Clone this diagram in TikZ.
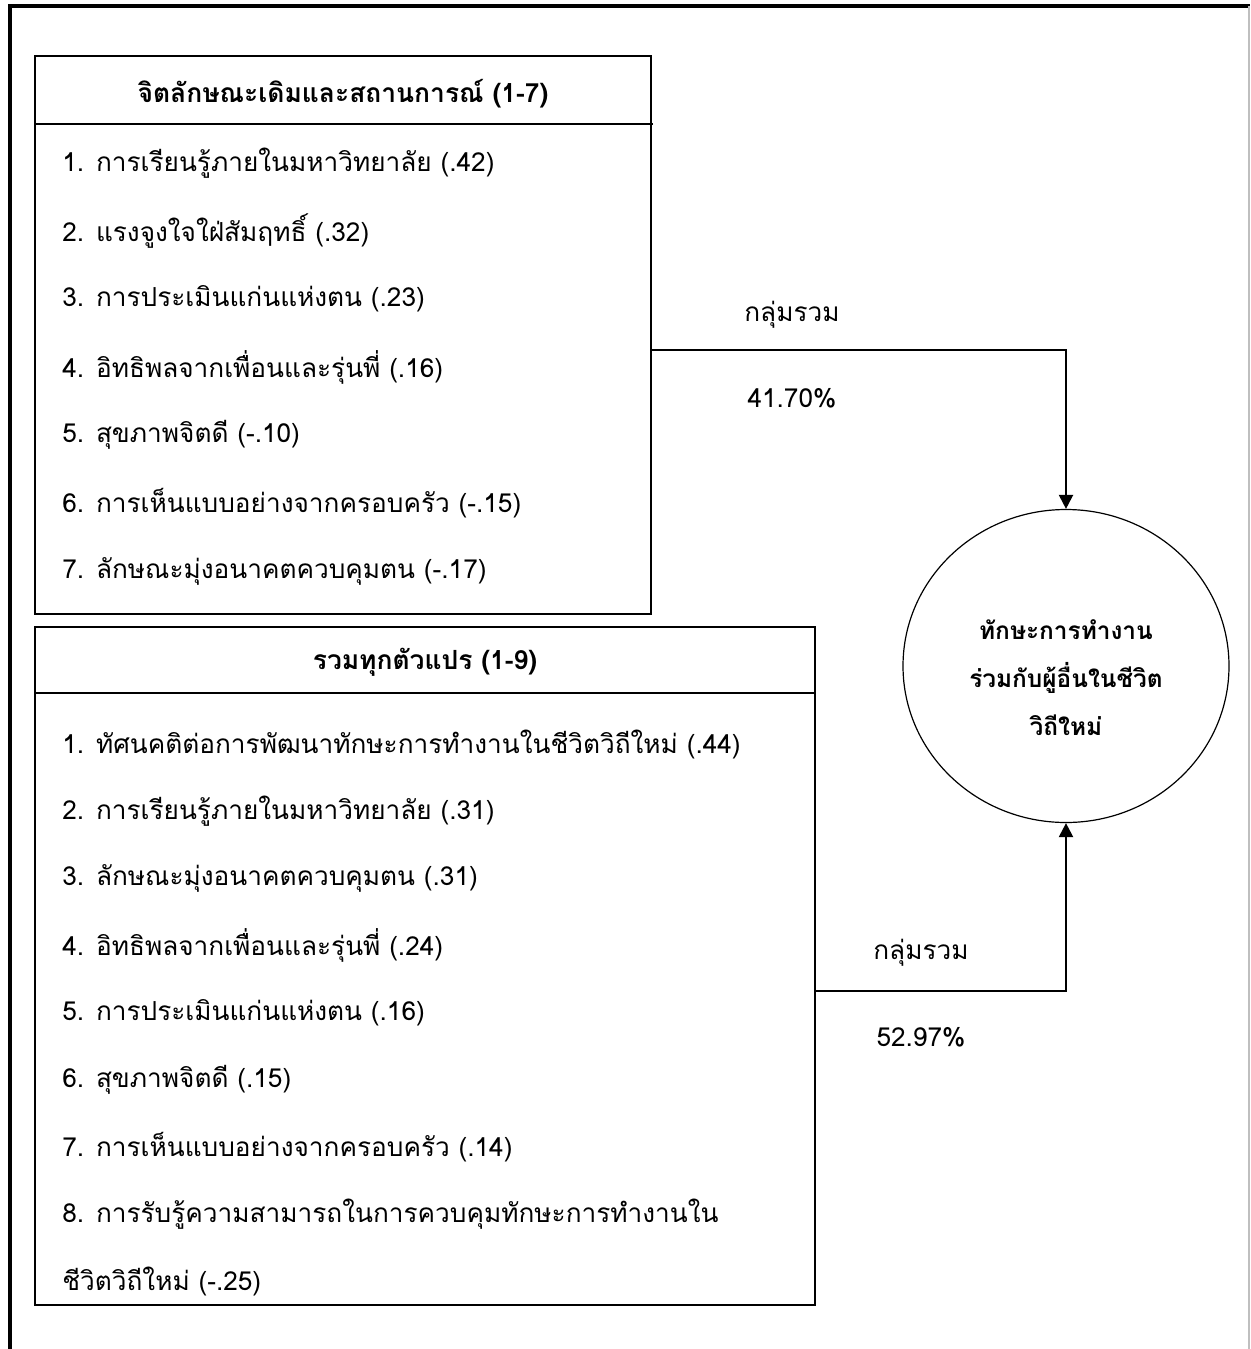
\documentclass[tikz,border=0pt]{standalone}
\usepackage{fontspec}
\newfontfamily\thaifont[Script=Thai]{Loma}
\usetikzlibrary{arrows.meta,shapes.geometric}
\tikzset{
  txt/.style={font=\thaifont\fontsize{13.1}{24}\selectfont, inner sep=0pt},
  item/.style={txt, anchor=west},
  head/.style={txt, font=\thaifont\bfseries\fontsize{13.2}{24}\selectfont},
  box/.style={draw, line width=0.6pt},
  link/.style={line width=1.1pt, -{Triangle[length=7pt,width=7pt]}}
}
\begin{document}
\begin{tikzpicture}[x=0.5pt,y=-0.5pt]
        \useasboundingbox (0,0) rectangle (1250,1349);
        % page frame
        \draw[line width=2.4pt] (10,1349) -- (10,6) -- (1250,6);
        \draw[gray!50, line width=0.6pt] (1249,6) -- (1249,1349);

        % first group
        \node[box, minimum width=308pt, minimum height=279pt] (box1) at (343,335) {};
        \node[head] (head1) at (343,94) {จิตลักษณะเดิมและสถานการณ์ (1-7)};
        \draw[line width=0.6pt] (box1.west |- 0,124) -- (653,124);
        \foreach \t [count=\i] in {
            1. การเรียนรู้ภายในมหาวิทยาลัย (.42),
            2. แรงจูงใจใฝ่สัมฤทธิ์ (.32),
            3. การประเมินแก่นแห่งตน (.23),
            4. อิทธิพลจากเพื่อนและรุ่นพี่ (.16),
            5. สุขภาพจิตดี (-.10),
            6. การเห็นแบบอย่างจากครอบครัว (-.15),
            7. ลักษณะมุ่งอนาคตควบคุมตน (-.17)}
          \node[item] (a\i) at (62,{163+(\i-1)*68}) {\t};

        % second group
        \node[box, minimum width=390pt, minimum height=339pt] (box2) at (425,966) {};
        \node[head] (head2) at (425,662) {รวมทุกตัวแปร (1-9)};
        \draw[line width=0.6pt] (box2.west |- 0,693) -- (box2.east |- 0,693);
        \foreach \t [count=\i] in {
            1. ทัศนคติต่อการพัฒนาทักษะการทำงานในชีวิตวิถีใหม่ (.44),
            2. การเรียนรู้ภายในมหาวิทยาลัย (.31),
            3. ลักษณะมุ่งอนาคตควบคุมตน (.31),
            4. อิทธิพลจากเพื่อนและรุ่นพี่ (.24),
            5. การประเมินแก่นแห่งตน (.16),
            6. สุขภาพจิตดี (.15),
            7. การเห็นแบบอย่างจากครอบครัว (.14),
            8. การรับรู้ความสามารถในการควบคุมทักษะการทำงานใน,
            ชีวิตวิถีใหม่ (-.25)}
          \node[item] (b\i) at (62,{744+(\i-1)*67.2}) {\t};

        % outcome
        \node[ellipse, draw, line width=0.6pt, minimum width=163pt, minimum height=156.5pt] (goal) at (1066,666) {};
        \node[head, align=center, font=\thaifont\bfseries\fontsize{12.2}{24}\selectfont] (goaltext) at (1066,678) {ทักษะการทำงาน\\ร่วมกับผู้อื่นในชีวิต\\วิถีใหม่};

        % connectors
        \draw[link] (box1.east |- 0,350) -| (goal.north);
        \draw[link] (box2.east |- 0,991) -| (goal.south);
        \node[txt] (g1) at (792,315) {กลุ่มรวม};
        \node[txt] (p1) at (792,398) {41.70\%};
        \node[txt] (g2) at (921,953) {กลุ่มรวม};
        \node[txt] (p2) at (921,1037) {52.97\%};
      \end{tikzpicture}
\end{document}
